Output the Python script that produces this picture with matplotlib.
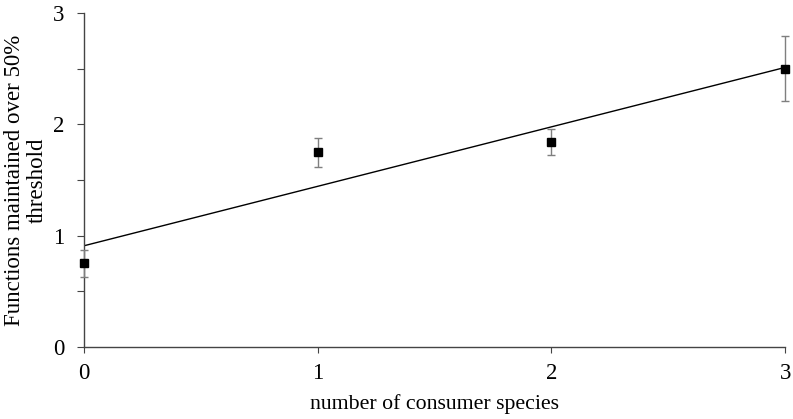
import numpy as np
import matplotlib as mpl
import matplotlib.pyplot as plt
from matplotlib.ticker import MultipleLocator

mpl.rcParams["font.family"] = "Liberation Serif"

# data
consumers = [0, 1, 2, 3]
functions_mean = [0.75, 1.75, 1.84, 2.50]
functions_err = [0.12, 0.13, 0.12, 0.29]

x = np.array(consumers, dtype=float)
y = np.array(functions_mean)
slope, intercept = np.polyfit(x, y, 1)
xfit = np.array([x.min(), x.max()])

fig = plt.figure(figsize=(7.93, 4.19), dpi=100)
ax = fig.add_axes([0.106, 0.172, 0.884, 0.797])

ax.plot(xfit, intercept + slope * xfit, color="black", linewidth=1.0, zorder=2)
ax.errorbar(x, y, yerr=functions_err, fmt="none", ecolor="#7f7f7f",
            elinewidth=1.0, capsize=3, capthick=1.0, zorder=3, clip_on=False)
ax.plot(x, y, "s", color="black", markersize=5.5, zorder=4, clip_on=False)

ax.set_xlim(0, 3)
ax.set_ylim(0, 3)
ax.set_xticks([0, 1, 2, 3])
ax.set_yticks([0, 1, 2, 3])
ax.yaxis.set_minor_locator(MultipleLocator(0.5))

for s in ["top", "right"]:
    ax.spines[s].set_visible(False)
for s in ["left", "bottom"]:
    ax.spines[s].set_color("#444444")
    ax.spines[s].set_linewidth(1.0)

ax.tick_params(axis="y", which="major", direction="out", length=5, width=0.8,
               color="#444444", labelsize=16.5, pad=9)
ax.tick_params(axis="y", which="minor", direction="out", length=5, width=0.8,
               color="#444444")
ax.tick_params(axis="x", direction="out", length=4.5, width=0.8,
               color="#444444", labelsize=16.5, pad=7)

ax.set_xlabel("number of consumer species", fontsize=15.7)
ax.xaxis.set_label_coords(0.5, -0.14)
fig.text(26 / 793, 0.570, "Functions maintained over 50%\nthreshold",
         rotation=90, ha="center", va="center", multialignment="center",
         fontsize=16.5, linespacing=1.15)

fig.savefig("out.png", dpi=100)
